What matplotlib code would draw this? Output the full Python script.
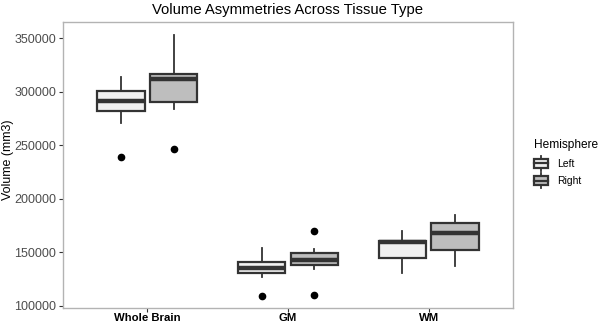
import matplotlib
matplotlib.use("Agg")
import matplotlib.pyplot as plt
from matplotlib.patches import Rectangle
from matplotlib.lines import Line2D
from matplotlib.legend_handler import HandlerBase

plt.rcParams['font.family'] = ['Liberation Sans', 'DejaVu Sans']

categories = ["Whole Brain", "GM", "WM"]
hemispheres = ["Left", "Right"]
fills = {"Left": "#F0F0F0", "Right": "#BEBEBE"}

# per category, per hemisphere: whislo, q1, med, q3, whishi, outliers
left_whislo = [270500, 127100, 130300]
left_q1 = [282250, 130300, 144300]
left_med = [291300, 135500, 159500]
left_q3 = [300900, 140800, 160500]
left_whishi = [314000, 154200, 170100]
left_fliers = [[238700], [109100], []]

right_whislo = [284100, 134000, 137400]
right_q1 = [290400, 137800, 152100]
right_med = [312200, 142700, 168200]
right_q3 = [316500, 149000, 177600]
right_whishi = [353300, 152700, 184500]
right_fliers = [[246200], [109700, 169800], []]

yticks = [100000, 150000, 200000, 250000, 300000, 350000]

fig = plt.figure(figsize=(6, 3.24), dpi=100)
ax = fig.add_axes([0.105, 0.0503, 0.75, 0.8827])

edge = "#333333"

def stats(wl, q1, med, q3, wh, fl):
    return [dict(whislo=a, q1=b, med=c, q3=d, whishi=e, fliers=f)
            for a, b, c, d, e, f in zip(wl, q1, med, q3, wh, fl)]

pos = list(range(1, len(categories) + 1))
for h, off, st in [("Left", -0.1875, stats(left_whislo, left_q1, left_med, left_q3, left_whishi, left_fliers)),
                   ("Right", 0.1875, stats(right_whislo, right_q1, right_med, right_q3, right_whishi, right_fliers))]:
    ax.bxp(st, positions=[p + off for p in pos], widths=0.3375, patch_artist=True,
           showcaps=False,
           boxprops=dict(facecolor=fills[h], edgecolor=edge, linewidth=1.6),
           medianprops=dict(color=edge, linewidth=3.2, solid_capstyle='butt'),
           whiskerprops=dict(color=edge, linewidth=1.3),
           flierprops=dict(marker='o', markerfacecolor='black', markeredgecolor='black', markersize=4.5),
           manage_ticks=False, zorder=2)

ax.set_xlim(0.4, 3.6)
ax.set_ylim(98130, 365500)
ax.set_xticks(pos)
ax.set_xticklabels(categories, fontweight='bold', fontsize=8.2, color='black')
ax.set_yticks(yticks)
ax.set_yticklabels([str(v) for v in yticks], fontsize=9, color='#4D4D4D')
ax.tick_params(axis='both', length=3, width=0.8, color='#333333', pad=2)
ax.tick_params(axis='x', pad=0.8)
for s in ax.spines.values():
    s.set_color('#B3B3B3')
    s.set_linewidth(1.0)
fig.text(8 / 600, 1 - 160 / 324, "Volume (mm3)", rotation=90, ha='center', va='center', fontsize=9)
ax.set_title("Volume Asymmetries Across Tissue Type", fontsize=10.7, pad=5.5)


class BoxHandler(HandlerBase):
    def create_artists(self, legend, orig_handle, xdescent, ydescent, width, height, fontsize, trans):
        fc = orig_handle.get_facecolor()
        x0, y0 = -xdescent, -ydescent
        bw = width
        bx = x0
        r = Rectangle((bx, y0 + height * 0.1), bw, height * 0.8, facecolor=fc,
                      edgecolor=edge, linewidth=1.6, transform=trans)
        m = Line2D([bx, bx + bw], [y0 + height / 2] * 2, color=edge, linewidth=1.6, transform=trans)
        cx = x0 + width / 2
        w1 = Line2D([cx, cx], [y0 - height * 0.15, y0 + height * 0.1], color=edge, linewidth=1.3, transform=trans)
        w2 = Line2D([cx, cx], [y0 + height * 0.9, y0 + height * 1.15], color=edge, linewidth=1.3, transform=trans)
        return [w1, w2, r, m]

handles = [Rectangle((0, 0), 1, 1, facecolor=fills[h]) for h in hemispheres]
leg = fig.legend(handles, hemispheres, handler_map={Rectangle: BoxHandler()},
                 title="Hemisphere", loc='upper left', bbox_to_anchor=(0.89, 0.57),
                 frameon=False, fontsize=7.5, title_fontsize=8.6, handlelength=1.3,
                 handleheight=1.3, labelspacing=0.6, handletextpad=0.9, borderaxespad=0,
                 borderpad=0)
leg._legend_box.align = "left"

fig.savefig("out.png", dpi=100)
